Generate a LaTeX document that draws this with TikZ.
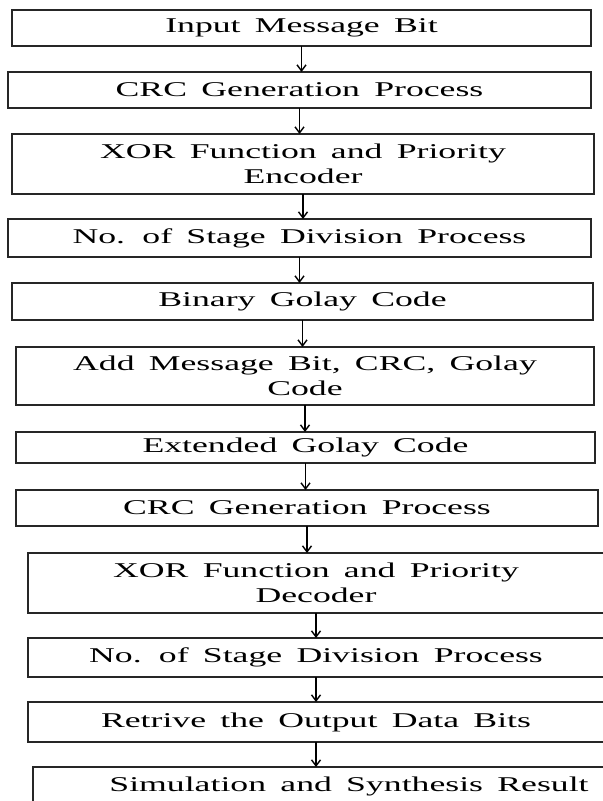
\documentclass[tikz,border=0pt]{standalone}
\usepackage{fontspec}
\setmainfont{Liberation Serif}[FakeStretch=1.7, WordSpace=1.6]
\usetikzlibrary{arrows.meta}

\tikzset{
    stage/.style={draw=black!85, line width=0.9pt, inner sep=0pt, outer sep=0pt,
        align=center, font=\fontsize{10.5}{12.5}\selectfont},
    flow/.style={-{Straight Barb[length=3pt,width=4.5pt]}, line width=0.7pt}
}

\begin{document}
\begin{tikzpicture}[x=0.5pt, y=-0.5pt]

\useasboundingbox (0,0) rectangle (603,801);
\clip (0,0) rectangle (603,801);

% Nodes
\node (input) [stage, minimum width=289.5pt, minimum height=18pt] at (301.5,28) {Input Message Bit};
\node (crcgen) [stage, minimum width=291.5pt, minimum height=18pt] at (299.5,90) {CRC Generation Process};
\node (xorenc) [stage, minimum width=291pt, minimum height=30pt] at (303,164) {XOR Function and Priority\\Encoder};
\node (stagediv) [stage, minimum width=291.5pt, minimum height=19pt] at (299.5,238) {No. of Stage Division Process};
\node (golay) [stage, minimum width=290.5pt, minimum height=18.5pt] at (302.5,301.5) {Binary Golay Code};
\node (addbits) [stage, minimum width=289pt, minimum height=29pt] at (305,376) {Add Message Bit, CRC, Golay\\Code};
\node (extgolay) [stage, minimum width=289.5pt, minimum height=15.5pt] at (305.5,447.5) {Extended Golay Code};
\node (crcgen2) [stage, minimum width=291pt, minimum height=18pt] at (307,508) {CRC Generation Process};
\node (xordec) [stage, minimum width=288pt, minimum height=30pt] at (316,583) {XOR Function and Priority\\Decoder};
\node (stagediv2) [stage, minimum width=288pt, minimum height=19.5pt] at (316,657.5) {No. of Stage Division Process};
\node (retrieve) [stage, minimum width=288pt, minimum height=20pt] at (316,722) {Retrive the Output Data Bits};
\node (result) [stage, minimum width=316pt, minimum height=19.5pt] at (349,786.5) {Simulation and Synthesis Result};

% Arrows
\draw[flow] (input.south) -- (input.south |- crcgen.north);
\draw[flow] (crcgen.south) -- (crcgen.south |- xorenc.north);
\draw[flow] (xorenc.south) -- (xorenc.south |- stagediv.north);
\draw[flow] (stagediv.south) -- (stagediv.south |- golay.north);
\draw[flow] (golay.south) -- (golay.south |- addbits.north);
\draw[flow] (addbits.south) -- (addbits.south |- extgolay.north);
\draw[flow] (extgolay.south) -- (extgolay.south |- crcgen2.north);
\draw[flow] (crcgen2.south) -- (crcgen2.south |- xordec.north);
\draw[flow] (xordec.south) -- (xordec.south |- stagediv2.north);
\draw[flow] (stagediv2.south) -- (stagediv2.south |- retrieve.north);
\draw[flow] (retrieve.south) -- (retrieve.south |- result.north);

\end{tikzpicture}
\end{document}
